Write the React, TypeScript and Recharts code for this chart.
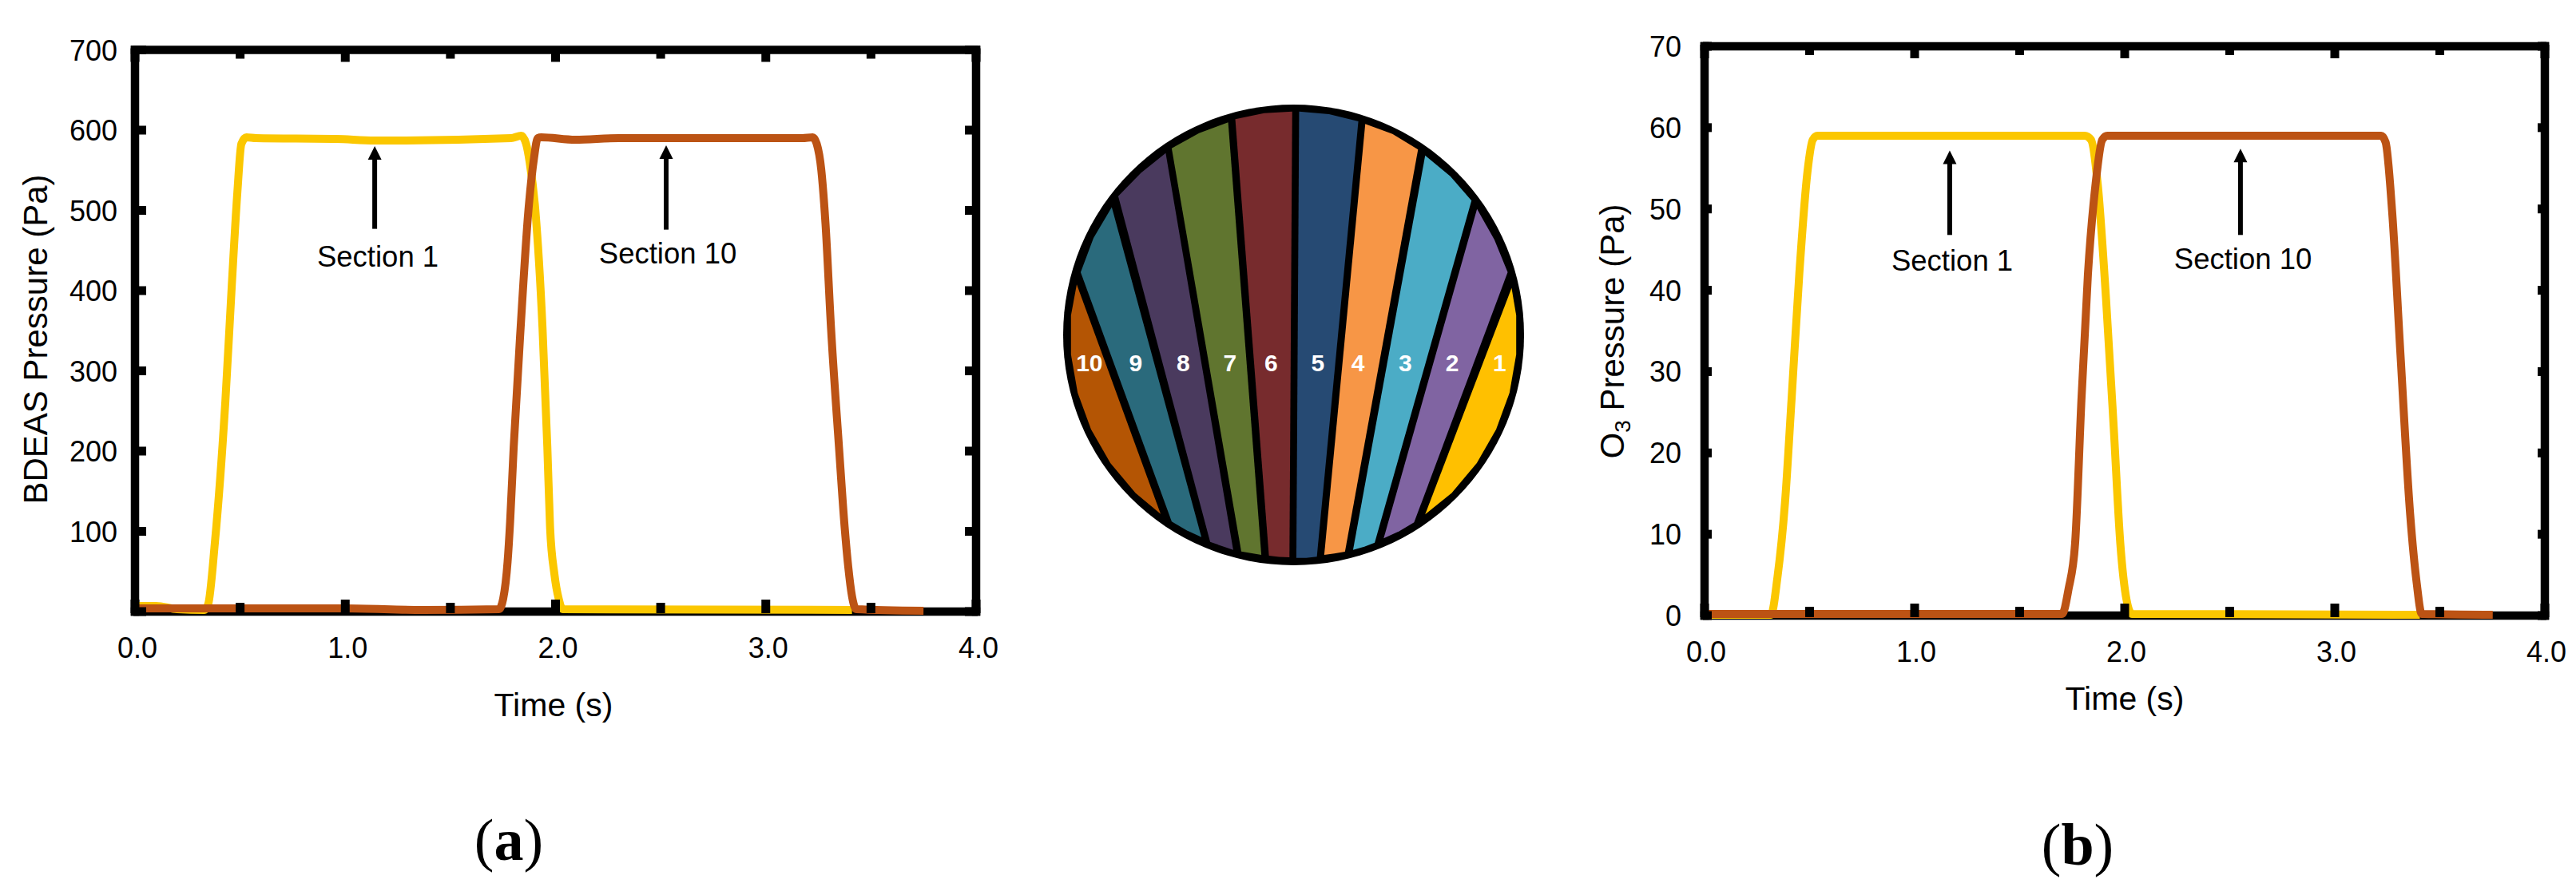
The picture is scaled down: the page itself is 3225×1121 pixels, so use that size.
import React from 'react';
import {
  ComposedChart,
  Line,
  XAxis,
  YAxis,
  ReferenceDot,
  ReferenceLine,
  ScatterChart,
  Scatter,
} from 'recharts';

const SANS = '"Liberation Sans", Arial, sans-serif';
const YELLOW = '#FBC700';
const BROWN = '#BC5314';

const timeTicks = [0, 0.5, 1, 1.5, 2, 2.5, 3, 3.5, 4];

// panel (a) BDEAS
const bdeasTicks = [0, 100, 200, 300, 400, 500, 600, 700];
const bdeasS1Time = [0, 0.1, 0.2, 0.33, 0.348, 0.38, 0.43, 0.46, 0.487, 0.506, 0.53, 0.576, 0.955, 1.14, 1.788, 1.837, 1.86, 1.877, 1.904, 1.938, 1.961, 1.974, 1.995, 2.015, 2.034, 3.41];
const bdeasS1Val = [7, 7, 3, 2, 9, 86, 263, 405, 523, 583, 591, 590, 589, 587, 590, 593, 583, 560, 500, 354, 205, 105, 46, 16, 3, 2];
const bdeasS10Time = [0, 1, 1.37, 1.731, 1.751, 1.772, 1.784, 1.801, 1.834, 1.871, 1.898, 1.915, 1.932, 2.094, 2.3, 3.174, 3.223, 3.242, 3.264, 3.284, 3.31, 3.348, 3.375, 3.392, 3.41, 3.43, 3.75];
const bdeasS10Val = [4, 4, 2, 3, 16, 62, 112, 205, 354, 500, 566, 590, 591, 588, 590, 590, 591, 583, 550, 483, 354, 205, 105, 56, 19, 3, 1];

// panel (b) O3
const ozoneTicks = [0, 10, 20, 30, 40, 50, 60, 70];
const ozoneS1Time = [0, 0.316, 0.347, 0.383, 0.414, 0.451, 0.49, 0.515, 0.537, 1.81, 1.84, 1.871, 1.911, 1.948, 1.979, 2.009, 2.034, 3.405];
const ozoneS1Val = [0.1, 0.1, 4.7, 13.9, 26.5, 42, 54.6, 58.5, 59, 59, 58.5, 53.2, 39, 23, 8.9, 1.9, 0.2, 0.1];
const ozoneS10Time = [0, 1.702, 1.733, 1.764, 1.794, 1.825, 1.862, 1.893, 1.917, 3.221, 3.242, 3.273, 3.313, 3.359, 3.39, 3.414, 3.752];
const ozoneS10Val = [0.2, 0.2, 3.3, 8.9, 26.5, 42, 53.2, 58.5, 59, 59, 58.2, 49.7, 32, 12.4, 4, 0.2, 0.1];

// wafer sections, outline vertices in percent of the radius
const sectionColors = ['#FFC000', '#8064A2', '#4BACC6', '#F79646', '#264A73', '#772B2D', '#60752F', '#4A3A5E', '#2A6A7C', '#B45504'];
const section1 = [[94.6, 20.4], [96.6, 8.5], [96.6, -8.5], [93.7, -25.1], [87.9, -41.0], [79.5, -55.6], [68.6, -68.6], [57.1, -77.9]];
const section2 = [[79.6, 54.7], [87.1, 41.4], [92.9, 27.2], [52.3, -81.4], [45.9, -85.2], [39.1, -88.3]];
const section3 = [[57.1, 77.9], [68.0, 68.9], [77.2, 58.3], [35.2, -90.2], [30.7, -91.9], [25.8, -93.3]];
const section4 = [[31.1, 91.6], [42.9, 87.3], [54.0, 80.5], [22.3, -94.1], [17.7, -94.9], [13.3, -95.5]];
const section5 = [[2.4, 97.0], [15.4, 95.8], [28.1, 92.7], [10.1, -96.3], [5.5, -96.8], [1.2, -96.8]];
const section6 = [[-25.3, 93.7], [-12.8, 96.3], [-0.6, 97.0], [-1.8, -96.5], [-6.3, -96.4], [-10.7, -95.8]];
const section7 = [[-52.9, 81.0], [-41.0, 87.6], [-28.4, 92.3], [-14.0, -95.5], [-22.7, -94.0]];
const section8 = [[-76.1, 60.2], [-66.2, 70.4], [-55.5, 78.9], [-26.2, -93.3], [-36.2, -89.9]];
const section9 = [[-92.4, 27.2], [-86.8, 42.1], [-78.9, 55.5], [-40.0, -87.8], [-46.4, -84.8], [-52.9, -81.0]];
const section10 = [[-94.1, 21.9], [-96.6, 8.5], [-96.6, -8.5], [-93.7, -25.1], [-87.9, -41.0], [-79.5, -55.6], [-68.6, -68.6], [-57.7, -77.7]];
const sections = [section1, section2, section3, section4, section5, section6, section7, section8, section9, section10];
const sectionLabelX = [89.4, 68.8, 48.5, 27.9, 10.5, -9.8, -27.6, -47.9, -68.5, -88.6];
const sectionLabelY = -12.1;

const zip = (t: number[], v: number[]) => t.map((time, i) => ({ time, value: v[i] }));

const arrowHead = (props: any) => (
  <polygon
    points={`${props.cx},${props.cy} ${props.cx - 8.5},${props.cy + 17} ${props.cx + 8.5},${props.cy + 17}`}
    fill="#000"
  />
);

const Panel = ({ left, top, width, height, margin, domainMax, yTicks, s1, s10, tickLen, yLabel, xDx, xDy, arrows, labels, xTitle, yTitle }: any) => {
  const xTick = (side: 'bottom' | 'top') => (p: any) => {
    const major = Number.isInteger(p.payload.value);
    const len = (major ? 17 : 13) * (side === 'bottom' ? -1 : 1);
    return (
      <g>
        <rect x={p.x - 5.5} y={Math.min(p.y, p.y + len)} width={11} height={Math.abs(len)} fill="#000" />
        {side === 'bottom' && major && (
          <text x={p.x + xDx} y={p.y + xDy} textAnchor="middle" fontFamily={SANS} fontSize={36} fill="#000">
            {p.payload.value.toFixed(1)}
          </text>
        )}
      </g>
    );
  };
  const yTick = (side: 'left' | 'right') => (p: any) => {
    const len = side === 'left' ? tickLen : -tickLen;
    return (
      <g>
        <rect x={Math.min(p.x, p.x + len)} y={p.y - 5.5} width={Math.abs(len)} height={11} fill="#000" />
        {side === 'left' && (yLabel.zero || p.payload.value !== 0) && (
          <text x={p.x - yLabel.gap} y={p.y + 13} textAnchor="end" fontFamily={SANS} fontSize={36} fill="#000">
            {p.payload.value}
          </text>
        )}
      </g>
    );
  };
  const frame = { stroke: '#000', strokeWidth: 10.5, strokeLinecap: 'square' as const };
  return (
    <div style={{ position: 'absolute', left, top }}>
      <ComposedChart width={width} height={height} margin={margin}>
        <XAxis
          dataKey="time"
          type="number"
          domain={[0, 4]}
          ticks={timeTicks}
          interval={0}
          height={height - yTitle.bottom}
          axisLine={frame}
          tickLine={false}
          tickSize={0}
          tick={xTick('bottom')}
          label={() => (
            <text x={xTitle.x} y={xTitle.y} textAnchor="middle" fontFamily={SANS} fontSize={41} fill="#000">
              Time (s)
            </text>
          )}
        />
        <XAxis xAxisId="top" dataKey="time" orientation="top" type="number" domain={[0, 4]} ticks={timeTicks} interval={0} height={1} axisLine={frame} tickLine={false} tickSize={0} tick={xTick('top')} />
        <YAxis
          type="number"
          domain={[0, domainMax]}
          ticks={yTicks}
          interval={0}
          width={margin.yWidth}
          axisLine={frame}
          tickLine={false}
          tickSize={0}
          tick={yTick('left')}
          label={() => yTitle.node}
        />
        <YAxis yAxisId="right" orientation="right" type="number" domain={[0, domainMax]} ticks={yTicks} interval={0} width={1} axisLine={frame} tickLine={false} tickSize={0} tick={yTick('right')} />
        {/* keeps the mirrored top and right axes alive */}
        <Line xAxisId="top" yAxisId="right" data={s1} dataKey="value" stroke="none" dot={false} isAnimationActive={false} />
        <Line data={s1} dataKey="value" type="monotone" stroke={YELLOW} strokeWidth={10} dot={false} isAnimationActive={false} strokeLinejoin="round" zIndex={1000} />
        <Line data={s10} dataKey="value" type="monotone" stroke={BROWN} strokeWidth={10} dot={false} isAnimationActive={false} strokeLinejoin="round" zIndex={1001} />
        {arrows.map((a: any, i: number) => (
          <ReferenceLine key={`shaft${i}`} segment={[{ x: a.time, y: a.from }, { x: a.time, y: a.shaftTo }]} stroke="#000" strokeWidth={6} />
        ))}
        {arrows.map((a: any, i: number) => (
          <ReferenceDot key={`head${i}`} x={a.time} y={a.tip} shape={arrowHead} />
        ))}
        {labels.map((l: any) => (
          <ReferenceDot
            key={l.text}
            x={l.time}
            y={l.value}
            shape={(p: any) => (
              <text x={p.cx} y={p.cy + 13} textAnchor="middle" fontFamily={SANS} fontSize={36.5} fill="#000">
                {l.text}
              </text>
            )}
          />
        ))}
      </ComposedChart>
    </div>
  );
};

const Wafer = () => (
  <div style={{ position: 'absolute', left: 1270, top: 100 }}>
    <ScatterChart width={700} height={640} margin={{ left: 32.15, right: 33.15, top: 2.15, bottom: 3.15 }}>
      <XAxis dataKey="x" type="number" domain={[-110, 110]} hide />
      <YAxis dataKey="y" type="number" domain={[-110, 110]} hide />
      <Scatter
        data={[{ x: 0, y: 0 }]}
        isAnimationActive={false}
        shape={(p: any) => <circle cx={p.cx} cy={p.cy} r={288.5} fill="#000" />}
      />
      {sections.map((s, i) => (
        <Scatter
          key={i}
          data={s.map(([x, y]) => ({ x, y }))}
          isAnimationActive={false}
          line={{ fill: sectionColors[i], stroke: 'none' }}
          lineJointType="linear"
          shape={() => <g />}
        />
      ))}
      <Scatter
        data={sectionLabelX.map((x, i) => ({ x, y: sectionLabelY, name: String(i + 1) }))}
        isAnimationActive={false}
        shape={(p: any) => (
          <text x={p.cx} y={p.cy + 11} textAnchor="middle" fontFamily={SANS} fontWeight="bold" fontSize={30} fill="#fff">
            {p.payload.name}
          </text>
        )}
      />
    </ScatterChart>
  </div>
);

const Caption = ({ x, y, letter }: { x: number; y: number; letter: string }) => (
  <div
    style={{
      position: 'absolute',
      left: x - 100,
      top: y - 50,
      width: 200,
      height: 80,
      lineHeight: '80px',
      textAlign: 'center',
      fontFamily: '"Liberation Serif", serif',
      fontSize: 74,
    }}
  >
    (<b>{letter}</b>)
  </div>
);

const App = () => (
  <div style={{ position: 'absolute', left: 0, top: 0, width: 3225, height: 1121, background: '#fff', overflow: 'hidden' }}>
    <Panel
      left={0}
      top={0}
      width={1290}
      height={1000}
      margin={{ left: 0, right: 67, top: 61.5, bottom: 0, yWidth: 169 }}
      domainMax={700}
      yTicks={bdeasTicks}
      s1={zip(bdeasS1Time, bdeasS1Val)}
      s10={zip(bdeasS10Time, bdeasS10Val)}
      tickLen={16}
      yLabel={{ gap: 20, zero: false }}
      xDx={3}
      xDy={56}
      arrows={[
        { time: 1.14, from: 477, shaftTo: 565, tip: 580 },
        { time: 2.526, from: 476, shaftTo: 565, tip: 581 },
      ]}
      labels={[
        { text: 'Section 1', time: 1.155, value: 443 },
        { text: 'Section 10', time: 2.534, value: 447 },
      ]}
      xTitle={{ x: 693, y: 897 }}
      yTitle={{
        bottom: 766,
        node: (
          <text transform="rotate(-90 59 425)" x={59} y={425} textAnchor="middle" fontFamily={SANS} fontSize={42} fill="#000">
            BDEAS Pressure (Pa)
          </text>
        ),
      }}
    />
    <Wafer />
    <Panel
      left={1960}
      top={0}
      width={1265}
      height={1000}
      margin={{ left: 0, right: 38, top: 57, bottom: 0, yWidth: 174 }}
      domainMax={70}
      yTicks={ozoneTicks}
      s1={zip(ozoneS1Time, ozoneS1Val)}
      s10={zip(ozoneS10Time, ozoneS10Val)}
      tickLen={11}
      yLabel={{ gap: 27, zero: true }}
      xDx={2}
      xDy={56}
      arrows={[
        { time: 1.167, from: 46.8, shaftTo: 55.8, tip: 57.2 },
        { time: 2.551, from: 46.8, shaftTo: 56, tip: 57.4 },
      ]}
      labels={[
        { text: 'Section 1', time: 1.179, value: 43.7 },
        { text: 'Section 10', time: 2.563, value: 43.9 },
      ]}
      xTitle={{ x: 700, y: 889 }}
      yTitle={{
        bottom: 771,
        node: (
          <text transform="rotate(-90 73 415)" x={73} y={415} textAnchor="middle" fontFamily={SANS} fontSize={42} fill="#000">
            O<tspan dy={8} fontSize={28}>3</tspan><tspan dy={-8}> Pressure (Pa)</tspan>
          </text>
        ),
      }}
    />
    <Caption x={637} y={1062} letter="a" />
    <Caption x={2601} y={1068} letter="b" />
  </div>
);

export default App;
